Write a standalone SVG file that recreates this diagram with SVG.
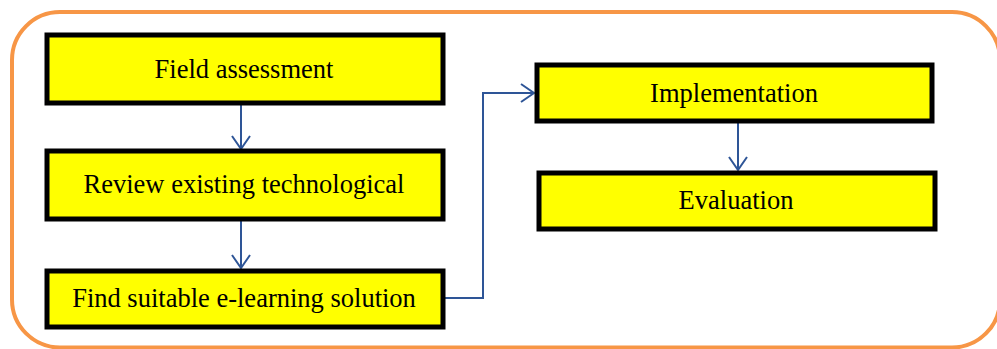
<svg xmlns="http://www.w3.org/2000/svg" width="997" height="349" viewBox="0 0 997 349">
<defs>
<style>
.box{fill:#FFFF00;stroke:#000;stroke-width:5;}
.lbl{font-family:"Liberation Serif","Times New Roman",serif;font-size:26.5px;fill:#000;text-anchor:middle;}
.conn{fill:none;stroke:#2E5597;stroke-width:2;}
</style>
<marker id="arr" markerWidth="20" markerHeight="20" refX="14" refY="10" orient="auto" markerUnits="userSpaceOnUse">
<path d="M1,1 L14,10 L1,19" fill="none" stroke="#2E5597" stroke-width="2"/>
</marker>
</defs>
<rect x="12" y="12" width="988" height="335.5" rx="48" ry="48" fill="#fff" stroke="#F79646" stroke-width="4"/>
<g id="connectors">
<line class="conn" x1="241" y1="104" x2="241" y2="149" marker-end="url(#arr)"/>
<line class="conn" x1="241" y1="220" x2="241" y2="268" marker-end="url(#arr)"/>
<polyline class="conn" points="444,298 483,298 483,93 534,93" marker-end="url(#arr)"/>
<line class="conn" x1="738" y1="122" x2="738" y2="170" marker-end="url(#arr)"/>
</g>
<g id="field-assessment">
<rect class="box" x="47" y="35" width="396" height="68"/>
<text class="lbl" x="244" y="78">Field assessment</text>
</g>
<g id="review-existing">
<rect class="box" x="47" y="151" width="396" height="68"/>
<text class="lbl" x="244" y="193">Review existing technological</text>
</g>
<g id="find-solution">
<rect class="box" x="47" y="271" width="396" height="56"/>
<text class="lbl" x="244" y="307">Find suitable e-learning solution</text>
</g>
<g id="implementation">
<rect class="box" x="537" y="65" width="395" height="56"/>
<text class="lbl" x="734" y="102">Implementation</text>
</g>
<g id="evaluation">
<rect class="box" x="539" y="173" width="396" height="56"/>
<text class="lbl" x="736" y="209">Evaluation</text>
</g>
</svg>
